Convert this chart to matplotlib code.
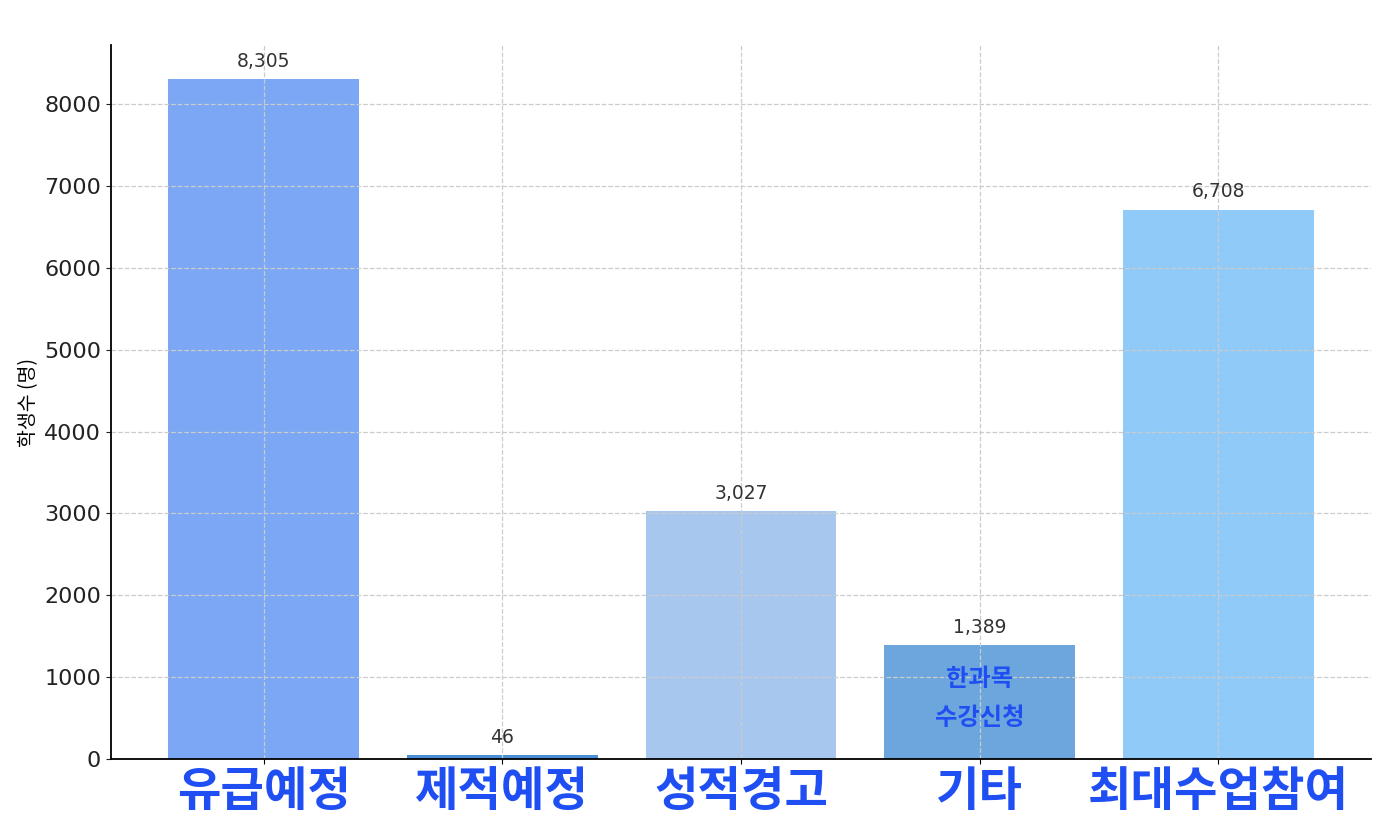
import matplotlib
matplotlib.use('Agg')
import matplotlib.pyplot as plt

# data
categories = ['유급예정', '제적예정', '성적경고', '기타', '최대수업참여']
counts = [8305, 46, 3027, 1389, 6708]
bar_colors = ['#7ba7f5', '#4a8fd8', '#a8c7ef', '#6ca6dc', '#90caf8']
note_text = '한과목\n수강신청'
y_label = '학생수 (명)'

plt.rcParams['font.family'] = ['DejaVu Sans', 'Noto Sans CJK KR']
label_blue = '#1f4ff2'

fig = plt.figure(figsize=(13.85, 8.26), dpi=100)
ax = fig.add_axes([0.0801, 0.081, 0.9098, 0.8645])

x = list(range(len(categories)))
bars = ax.bar(x, counts, color=bar_colors, width=0.8)
ax.set_ylim(0, max(counts) * 1.05)

# value labels above bars
for rect, v in zip(bars, counts):
    ax.annotate(f'{v:,}', (rect.get_x() + rect.get_width() / 2, v),
                xytext=(0, 6), textcoords='offset points',
                ha='center', va='bottom', fontsize=13.5, color='#333333')

# note inside the '기타' bar
ax.text(3, 740, note_text, ha='center', va='center', fontsize=17.5,
        fontweight='bold', color=label_blue, linespacing=1.75,
        family=['Noto Sans CJK KR'])

ax.set_xticks(x)
ax.set_xticklabels(categories, fontsize=34, fontweight='black',
                   color=label_blue, family=['Noto Sans CJK KR'])
ax.tick_params(axis='y', labelsize=16, colors='#222222')
ax.tick_params(axis='x', pad=3)
ax.set_ylabel(y_label, fontsize=14, family=['Noto Sans CJK KR'])

ax.grid(True, linestyle='--', color='#cccccc', linewidth=0.9)
ax.spines['top'].set_visible(False)
ax.spines['right'].set_visible(False)
ax.spines['left'].set_linewidth(1.3)
ax.spines['bottom'].set_linewidth(1.3)

fig.savefig('out.png', dpi=100)
